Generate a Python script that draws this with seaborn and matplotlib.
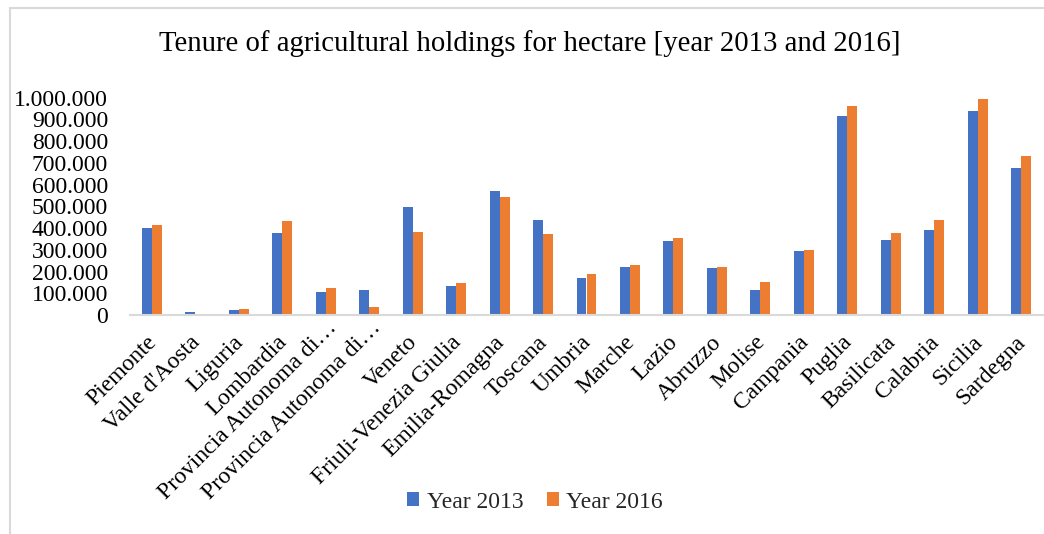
import matplotlib
matplotlib.use("Agg")
import matplotlib.pyplot as plt
from matplotlib.lines import Line2D
from matplotlib.patches import Patch
from matplotlib.transforms import ScaledTranslation
import numpy as np
import pandas as pd
import seaborn as sns

regions = [
    "Piemonte", "Valle d'Aosta", "Liguria", "Lombardia",
    "Provincia Autonoma di\u2026", "Provincia Autonoma di\u2026",
    "Veneto", "Friuli-Venezia Giulia", "Emilia-Romagna", "Toscana",
    "Umbria", "Marche", "Lazio", "Abruzzo", "Molise", "Campania",
    "Puglia", "Basilicata", "Calabria", "Sicilia", "Sardegna",
]
year_2013 = [402000, 12000, 21000, 375000, 105000, 113000, 495000, 133000,
             569000, 439000, 168000, 219000, 339000, 214000, 115000, 292000,
             914000, 344000, 393000, 936000, 678000]
year_2016 = [416000, 5000, 29000, 431000, 124000, 35000, 382000, 148000,
             541000, 372000, 188000, 229000, 356000, 219000, 150000, 297000,
             962000, 379000, 437000, 991000, 731000]
series_names = ["Year 2013", "Year 2016"]
y_ticks = [0, 100000, 200000, 300000, 400000, 500000, 600000, 700000,
           800000, 900000, 1000000]
title = "Tenure of agricultural holdings for hectare [year 2013 and 2016]"

colors = ["#4472C4", "#ED7D31"]

# the two autonomous provinces share a truncated label, so index by position
n = len(regions)
df = pd.DataFrame({
    "pos": list(range(n)) * 2,
    "value": year_2013 + year_2016,
    "series": [series_names[0]] * n + [series_names[1]] * n,
})

sns.set_theme(style="white")
plt.rcParams["font.family"] = ["Liberation Serif", "DejaVu Serif"]

fig = plt.figure(figsize=(10.44, 5.34), dpi=100)
W, H = 1044, 534
ax = fig.add_axes([130 / W, 1 - 315 / H, (1043 - 130) / W, (315 - 97.5) / H])

sns.barplot(data=df, x="pos", y="value", hue="series", palette=colors,
            width=0.46, gap=0, ax=ax, legend=False, saturation=1,
            edgecolor="none", order=list(range(n)))

ax.set_xlim(-0.5, n - 0.5)
ax.set_ylim(0, 1000000)
ax.set_yticks(y_ticks)
ax.set_yticklabels([f"{v:,}".replace(",", ".") for v in y_ticks],
                   fontsize=17, color="#000000")
ax.set_xticks(range(n))
ax.set_xticklabels(regions, rotation=45, ha="right", rotation_mode="anchor",
                   fontsize=17, color="#000000")
ax.tick_params(axis="y", length=0, pad=15.8)
ax.tick_params(axis="x", length=0, pad=12)
ax.set_xlabel("")
ax.set_ylabel("")
for side in ["left", "right", "top"]:
    ax.spines[side].set_visible(False)
ax.spines["bottom"].set_color("#d9d9d9")
ax.spines["bottom"].set_linewidth(1.5)
ax.grid(False)

# nudge the slanted category labels; truncated ones sit a little higher
for lbl in ax.get_xticklabels():
    if lbl.get_text().endswith("\u2026"):
        dx, dy = 1, 15
    else:
        dx, dy = -6, 0
    lbl.set_transform(lbl.get_transform()
                      + ScaledTranslation(dx / 100, dy / 100, fig.dpi_scale_trans))

fig.text(530 / W, 1 - 44 / H, title, ha="center", va="center", fontsize=20.7,
         color="#000000")

handles = [Patch(facecolor=c, edgecolor="none") for c in colors]
fig.legend(handles, series_names, loc="center", ncol=2, frameon=False,
           bbox_to_anchor=(535 / W, 1 - 502 / H), fontsize=17,
           handlelength=0.51, handleheight=0.51, handletextpad=0.3,
           columnspacing=1.0)

# chart area frame
fig.add_artist(Line2D([9.5 / W, 1], [1 - 7.5 / H, 1 - 7.5 / H],
                      color="#d9d9d9", lw=1.5, transform=fig.transFigure))
fig.add_artist(Line2D([9.5 / W, 9.5 / W], [0, 1 - 7.5 / H],
                      color="#d9d9d9", lw=1.5, transform=fig.transFigure))

fig.savefig("out.png", dpi=100)
